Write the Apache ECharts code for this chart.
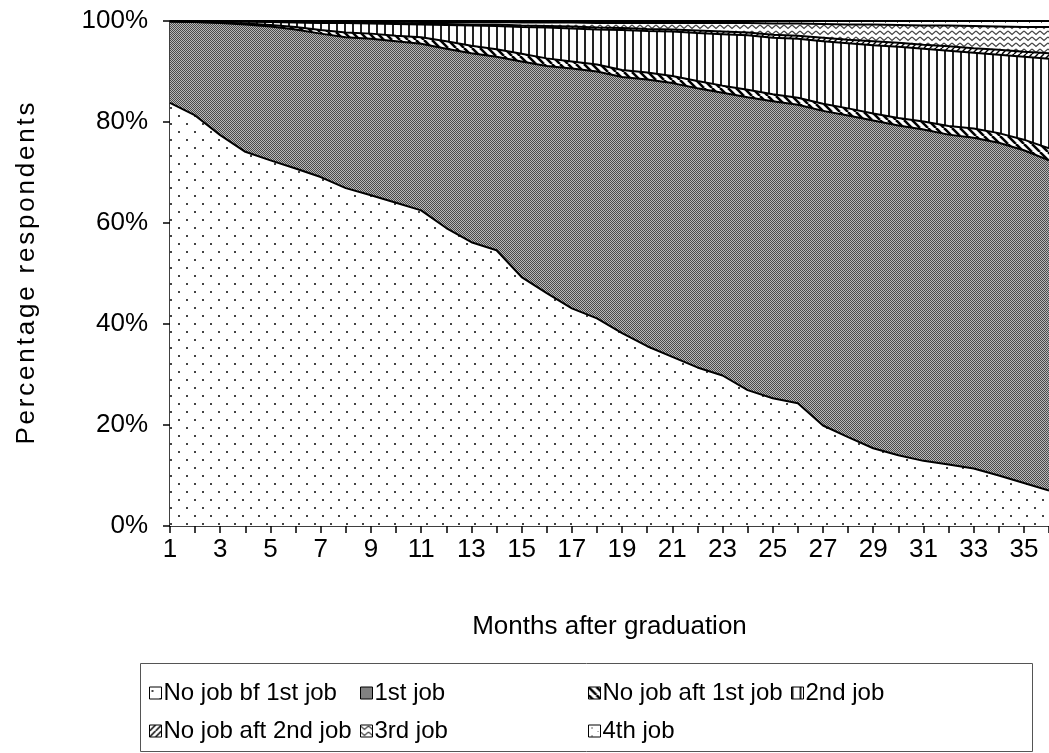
<!DOCTYPE html>
<html>
<head>
<meta charset="utf-8">
<script src="https://cdn.jsdelivr.net/npm/echarts@6/dist/echarts.min.js"></script>
<style>
  html, body { margin: 0; padding: 0; background: #fff; }
  #chart { width: 1049px; height: 753px; }
</style>
</head>
<body>
<div id="chart"></div>
<script>
// months after graduation
const months = ['1','2','3','4','5','6','7','8','9','10','11','12','13','14','15','16','17','18',
  '19','20','21','22','23','24','25','26','27','28','29','30','31','32','33','34','35','36'];

// share of respondents (%) per state
const noJobBefore1st = [83.8, 81.3, 77.4, 74.1, 72.4, 70.8, 69.1, 66.9, 65.5, 64.0, 62.5, 59.0,
  56.2, 54.6, 49.3, 46.1, 43.1, 41.1, 38.2, 35.6, 33.5, 31.4, 29.8, 26.9,
  25.3, 24.3, 19.9, 17.6, 15.4, 14.0, 12.9, 12.2, 11.4, 10.0, 8.5, 7.0];
const firstJob = [16.1, 18.5, 22.2, 25.2, 26.5, 27.5, 28.4, 29.9, 31.0, 32.0, 33.0, 35.5,
  37.4, 38.3, 42.7, 45.0, 47.5, 48.9, 50.7, 52.8, 54.2, 55.3, 56.0, 58.0,
  58.8, 59.1, 62.3, 63.7, 64.9, 65.3, 65.6, 65.3, 65.5, 65.9, 65.9, 65.4];
const noJobAfter1st = [0, 0, 0.1, 0.2, 0.3, 0.5, 0.7, 0.9, 1.0, 1.1, 1.3, 1.5,
  1.5, 1.5, 1.5, 1.5, 1.4, 1.4, 1.4, 1.4, 1.4, 1.4, 1.4, 1.5,
  1.4, 1.4, 1.4, 1.4, 1.4, 1.5, 1.6, 1.7, 1.8, 1.9, 2.1, 2.4];
const secondJob = [0.1, 0.2, 0.2, 0.4, 0.6, 0.9, 1.4, 1.9, 2.0, 2.3, 2.5, 3.2,
  4.0, 4.6, 5.3, 6.1, 6.5, 6.9, 7.9, 8.2, 8.8, 9.5, 10.2, 10.8,
  11.2, 11.7, 12.4, 12.9, 13.5, 14.1, 14.4, 14.9, 15.0, 15.5, 16.4, 17.7];
const noJobAfter2nd = [0, 0, 0, 0, 0.1, 0.1, 0.1, 0.1, 0.1, 0.2, 0.2, 0.2,
  0.2, 0.3, 0.3, 0.3, 0.4, 0.4, 0.4, 0.4, 0.4, 0.5, 0.5, 0.5,
  0.6, 0.6, 0.7, 0.7, 0.8, 0.8, 0.8, 0.9, 0.9, 1.0, 1.0, 1.1];
const thirdJob = [0, 0, 0.1, 0.1, 0.1, 0.1, 0.2, 0.2, 0.3, 0.3, 0.3, 0.4,
  0.5, 0.5, 0.6, 0.7, 0.8, 0.9, 1.0, 1.2, 1.3, 1.5, 1.7, 1.9,
  2.2, 2.4, 2.7, 3.0, 3.3, 3.5, 3.8, 4.1, 4.4, 4.6, 4.9, 5.2];
const fourthJob = [0, 0, 0, 0, 0, 0.1, 0.1, 0.1, 0.1, 0.1, 0.2, 0.2,
  0.2, 0.2, 0.3, 0.3, 0.3, 0.4, 0.4, 0.4, 0.4, 0.4, 0.4, 0.4,
  0.5, 0.5, 0.6, 0.7, 0.7, 0.8, 0.9, 0.9, 1.0, 1.1, 1.2, 1.2];

const seriesNames = ['No job bf 1st job', '1st job', 'No job aft 1st job', '2nd job',
  'No job aft 2nd job', '3rd job', '4th job'];
const seriesData = [noJobBefore1st, firstJob, noJobAfter1st, secondJob, noJobAfter2nd, thirdJob, fourthJob];

const font = 'Liberation Sans, Arial, sans-serif';
const yTitle = 'Percentage respondents';

// little canvas tiles used as black & white fill patterns
function tile(w, h, draw) {
  const c = document.createElement('canvas');
  c.width = w;
  c.height = h;
  const ctx = c.getContext('2d');
  ctx.fillStyle = '#fff';
  ctx.fillRect(0, 0, w, h);
  draw(ctx);
  return { image: c, repeat: 'repeat' };
}

const patterns = [
  // sparse dots
  tile(16, 16, ctx => {
    ctx.fillStyle = '#444';
    ctx.fillRect(2, 3, 2, 2);
    ctx.fillRect(10, 11, 2, 2);
  }),
  // fine grey checker
  tile(2, 2, ctx => {
    ctx.fillStyle = '#b8b8b8';
    ctx.fillRect(0, 0, 2, 2);
    ctx.fillStyle = '#4a4a4a';
    ctx.fillRect(0, 0, 1, 1);
    ctx.fillRect(1, 1, 1, 1);
  }),
  // diagonal stripes "\"
  tile(8, 8, ctx => {
    ctx.strokeStyle = '#000';
    ctx.lineWidth = 2.5;
    for (const o of [-8, 0, 8]) {
      ctx.beginPath();
      ctx.moveTo(o, 0);
      ctx.lineTo(o + 8, 8);
      ctx.stroke();
    }
  }),
  // vertical lines
  tile(8, 4, ctx => {
    ctx.fillStyle = '#222';
    ctx.fillRect(0, 0, 2, 4);
  }),
  // diagonal stripes "/"
  tile(6, 6, ctx => {
    ctx.strokeStyle = '#000';
    ctx.lineWidth = 1.5;
    for (const o of [-6, 0, 6]) {
      ctx.beginPath();
      ctx.moveTo(o, 6);
      ctx.lineTo(o + 6, 0);
      ctx.stroke();
    }
  }),
  // zigzag
  tile(8, 6, ctx => {
    ctx.strokeStyle = '#444';
    ctx.lineWidth = 1.3;
    ctx.beginPath();
    ctx.moveTo(0, 1);
    ctx.lineTo(4, 4.5);
    ctx.lineTo(8, 1);
    ctx.stroke();
  }),
  // few small specks
  tile(12, 8, ctx => {
    ctx.fillStyle = '#666';
    ctx.fillRect(3, 2, 1, 2);
    ctx.fillRect(9, 6, 1, 1);
  })
];

const series = seriesNames.map((name, i) => ({
  name: name,
  type: 'line',
  stack: 'all',
  data: seriesData[i],
  symbol: 'none',
  lineStyle: { color: '#000', width: 2 },
  itemStyle: { color: '#000' },
  areaStyle: { color: patterns[i], opacity: 1 },
  emphasis: { disabled: true }
}));

// legend laid out in four columns like the original
const legendCols = [
  { left: 144, items: [0, 4] },
  { left: 355, items: [1, 5] },
  { left: 583, items: [2, 6] },
  { left: 786, items: [3] }
];

const legends = legendCols.map(col => ({
  orient: 'vertical',
  left: col.left,
  top: 676,
  itemGap: 14,
  itemWidth: 12,
  itemHeight: 12,
  icon: 'rect',
  selectedMode: false,
  textStyle: { fontSize: 24, color: '#000', fontFamily: font, padding: [0, 0, 0, -3] },
  data: col.items.map(k => ({
    name: seriesNames[k],
    itemStyle: { color: patterns[k], borderColor: '#000', borderWidth: 1 }
  }))
}));

const option = {
  animation: false,
  backgroundColor: '#fff',
  grid: { left: 170, top: 21, right: -13, bottom: 227 },
  legend: legends,
  xAxis: {
    type: 'category',
    data: months,
    boundaryGap: false,
    name: 'Months after graduation',
    nameLocation: 'middle',
    nameGap: 88,
    nameTextStyle: { fontSize: 26, color: '#000', fontFamily: font },
    axisLine: { lineStyle: { color: '#000', width: 1.5 } },
    axisTick: { interval: 0, length: 7, lineStyle: { color: '#000', width: 1.5 } },
    axisLabel: { interval: 1, fontSize: 26, color: '#000', fontFamily: font, margin: 11 },
    splitLine: { show: false }
  },
  yAxis: {
    type: 'value',
    min: 0,
    max: 100,
    interval: 20,
    // the original title is spread out a little, so each letter gets a bit of padding
    name: yTitle.split('').map(ch => '{s|' + ch + '}').join(''),
    nameLocation: 'middle',
    nameGap: 130,
    nameTextStyle: {
      fontSize: 26, color: '#000', fontFamily: font,
      rich: { s: { fontSize: 26, color: '#000', fontFamily: font, padding: [0, 1.4, 0, 1.4] } }
    },
    axisLine: { show: true, lineStyle: { color: '#000', width: 1.5 } },
    axisTick: { show: true, length: 7, lineStyle: { color: '#000', width: 1.5 } },
    axisLabel: { formatter: '{value}%', fontSize: 26, color: '#000', fontFamily: font, margin: 22 },
    splitLine: { show: false }
  },
  graphic: [{
    type: 'rect',
    shape: { x: 140.5, y: 663.5, width: 892, height: 88 },
    style: { fill: 'none', stroke: '#555', lineWidth: 1 },
    silent: true
  }],
  series: series
};

const chart = echarts.init(document.getElementById('chart'));
chart.setOption(option);
</script>
</body>
</html>
